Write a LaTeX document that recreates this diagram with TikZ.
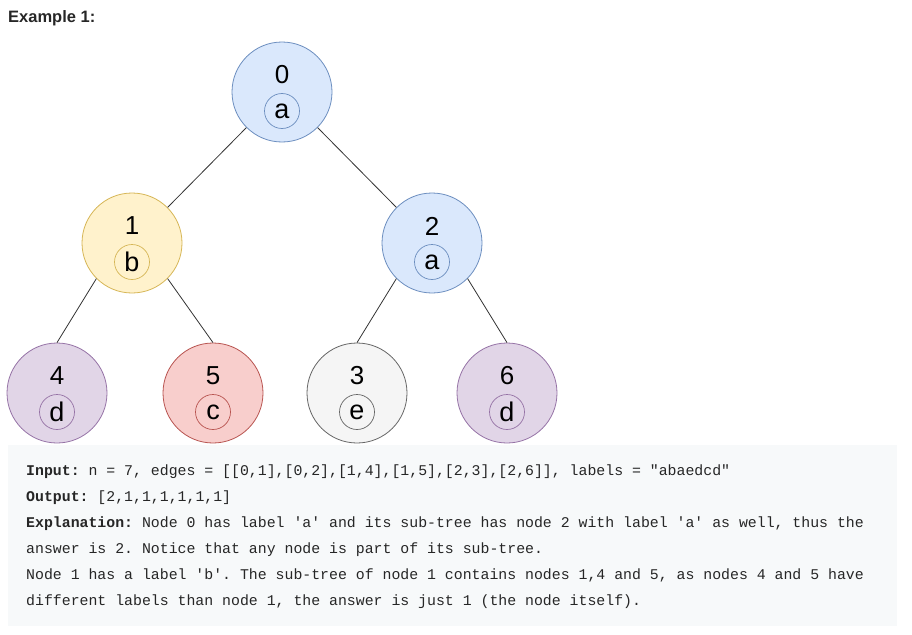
\documentclass[tikz,border=0pt]{standalone}
\usepackage{fontspec}
\setmainfont{Liberation Sans}
\setmonofont{Liberation Mono}
\usetikzlibrary{positioning}

\definecolor{bluefill}{HTML}{DAE8FC}
\definecolor{bluedraw}{HTML}{6C8EBF}
\definecolor{yellowfill}{HTML}{FFF2CC}
\definecolor{yellowdraw}{HTML}{D6B656}
\definecolor{purplefill}{HTML}{E1D5E7}
\definecolor{purpledraw}{HTML}{9673A6}
\definecolor{redfill}{HTML}{F8CECC}
\definecolor{reddraw}{HTML}{B85450}
\definecolor{grayfill}{HTML}{F5F5F5}
\definecolor{graydraw}{HTML}{666666}
\definecolor{boxfill}{HTML}{F7F9FA}
\definecolor{textcol}{HTML}{262626}

\begin{document}
\begin{tikzpicture}[x=1pt,y=-1pt,
		treenode/.style={circle,draw,line width=0.8pt,minimum size=100pt,inner sep=0pt},
		tag/.style={circle,draw,line width=0.7pt,minimum size=35pt,inner sep=0pt,font=\fontsize{27}{27}\selectfont},
		num/.style={font=\fontsize{26}{26}\selectfont},
		edge/.style={draw=black!80,line width=0.8pt},
		codeline/.style={anchor=base west,inner sep=0pt,font=\fontsize{14.85}{14.85}\ttfamily,text=textcol}]
	\useasboundingbox (0,0) rectangle (912,634);

	\node[anchor=base west,inner sep=0pt,text=textcol,font=\fontsize{16.5}{16.5}\bfseries] (title) at (8,23) {Example 1:};

	% the tree
	\foreach \n/\x/\y/\c/\l in {0/282/92/blue/a,1/132/243/yellow/b,2/432/243/blue/a,
			4/57/393/purple/d,5/213/393/red/c,3/357/393/gray/e,6/507/393/purple/d}{
		\node[treenode,fill=\c fill,draw=\c draw] (n\n) at (\x,\y) {};
		\node[num] (num\n) at (\x,\y-17) {\n};
		\node[tag,draw=\c draw] (tag\n) at (\x,\y+19) {\l};
	}
	\draw[edge] (n0.south west) -- (n1.north east);
	\draw[edge] (n0.south east) -- (n2.north west);
	\foreach \p/\a/\b in {1/4/5,2/3/6}{
		\draw[edge] (n\p.south west) -- (n\a.north);
		\draw[edge] (n\p.south east) -- (n\b.north);
	}

	% the explanation
	\fill[boxfill] (8,445) rectangle (897,626);
	\node[codeline] (l1) at (26,475) {\textbf{Input:} n = 7, edges = [[0,1],[0,2],[1,4],[1,5],[2,3],[2,6]], labels = "abaedcd"};
	\node[codeline] (l2) at (26,501) {\textbf{Output:} [2,1,1,1,1,1,1]};
	\node[codeline] (l3) at (26,527) {\textbf{Explanation:} Node 0 has label 'a' and its sub-tree has node 2 with label 'a' as well, thus the};
	\node[codeline] (l4) at (26,553) {answer is 2. Notice that any node is part of its sub-tree.};
	\node[codeline] (l5) at (26,579) {Node 1 has a label 'b'. The sub-tree of node 1 contains nodes 1,4 and 5, as nodes 4 and 5 have};
	\node[codeline] (l6) at (26,605) {different labels than node 1, the answer is just 1 (the node itself).};
\end{tikzpicture}
\end{document}
